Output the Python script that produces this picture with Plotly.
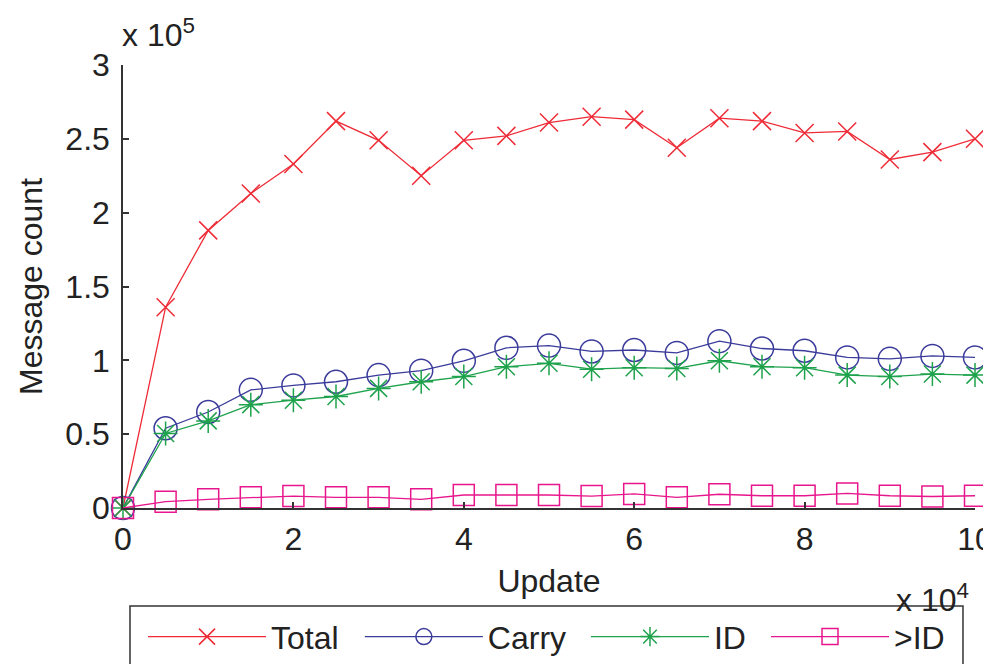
import plotly.graph_objects as go

updates = [0, 5000, 10000, 15000, 20000, 25000, 30000, 35000, 40000, 45000, 50000,
           55000, 60000, 65000, 70000, 75000, 80000, 85000, 90000, 95000, 100000]
total = [0, 136000, 188000, 213000, 233000, 262000, 249000, 225000, 249000, 252000, 261000,
         265000, 263000, 244000, 264000, 262000, 254000, 255000, 236000, 241000, 250000]
carry = [0, 54000, 65000, 80000, 83000, 85500, 90000, 93000, 99700, 108500, 110000,
         106000, 107000, 105000, 113000, 108000, 106500, 102000, 101000, 103000, 102000]
id_msgs = [0, 50500, 59000, 70000, 73000, 75500, 81000, 85500, 89000, 95700, 98000,
           94000, 95000, 94500, 99700, 95700, 95000, 90000, 89000, 90700, 90000]
gt_id = [0, 4300, 5900, 7200, 8100, 7200, 7200, 5900, 8800, 8800, 8800,
         8100, 9500, 7200, 9300, 8300, 8300, 9900, 8300, 7800, 8300]

x_tickvals = [0, 20000, 40000, 60000, 80000, 100000]
x_ticktext = ["0", "2", "4", "6", "8", "10"]
y_tickvals = [0, 50000, 100000, 150000, 200000, 250000, 300000]
y_ticktext = ["0", "0.5", "1", "1.5", "2", "2.5", "3"]

series = [
    ("Total", total, "#ee2b37", "x-thin-open", 18, "legend", 0.0235),
    ("Carry", carry, "#3b3b9c", "circle-open", 23, "legend2", 0.278),
    ("ID", id_msgs, "#1ea24c", "asterisk-open", 20, "legend3", 0.5434),
    (">ID", gt_id, "#e8168c", "square-open", 21, "legend4", 0.7547),
]

FONT = "Liberation Sans, Arial, Helvetica, sans-serif"
FS = 32

fig = go.Figure()
legends = {}
for name, vals, color, sym, size, leg, lx in series:
    fig.add_trace(go.Scatter(
        x=updates, y=vals, name=name, mode="lines+markers",
        line=dict(color=color, width=1.3),
        marker=dict(symbol=sym, size=size, color=color, line=dict(color=color, width=1.5)),
        cliponaxis=False, legend=leg,
    ))
    legends[leg] = dict(
        orientation="h", x=lx, y=0.053, xanchor="left", yanchor="middle", yref="container",
        borderwidth=0, bgcolor="rgba(0,0,0,0)",
        font=dict(size=FS, family=FONT, color="#222222"), itemwidth=118,
    )

fig.update_layout(
    width=991, height=664,
    margin=dict(l=115, r=24, t=57, b=164),
    paper_bgcolor="white", plot_bgcolor="white",
    font=dict(family=FONT, size=FS, color="#222222"),
    showlegend=True,
    **legends,
    xaxis=dict(
        range=[0, 100000], tickvals=x_tickvals, ticktext=x_ticktext,
        ticks="inside", ticklen=6, tickcolor="#333333", tickwidth=1.5,
        showline=True, linecolor="#333333", linewidth=1.5,
        showgrid=False, zeroline=False, automargin=False, ticklabelstandoff=2,
        title=dict(text="Update", standoff=13, font=dict(size=FS)),
    ),
    yaxis=dict(
        range=[0, 300000], tickvals=y_tickvals, ticktext=y_ticktext,
        ticks="inside", ticklen=6, tickcolor="#333333", tickwidth=1.5,
        showline=True, linecolor="#333333", linewidth=1.5,
        showgrid=False, zeroline=False, automargin=False, ticklabelstandoff=5,
        title=dict(text="Message count", standoff=13, font=dict(size=FS)),
    ),
    shapes=[
        dict(type="rect", xref="paper", yref="paper", x0=0.0082, x1=0.9859, y0=-0.2212, y1=-0.40,
             line=dict(color="#333333", width=1.5), fillcolor="rgba(0,0,0,0)", layer="below"),
    ],
    annotations=[
        dict(text="x 10<sup>5</sup>", xref="paper", yref="paper", x=-0.004, y=1.0226,
             xanchor="left", yanchor="bottom", showarrow=False, font=dict(size=FS)),
        dict(text="x 10<sup>4</sup>", xref="paper", yref="paper", x=0.995, y=-0.1535,
             xanchor="right", yanchor="top", showarrow=False, font=dict(size=FS)),
    ],
)

fig.write_html("out.html")
